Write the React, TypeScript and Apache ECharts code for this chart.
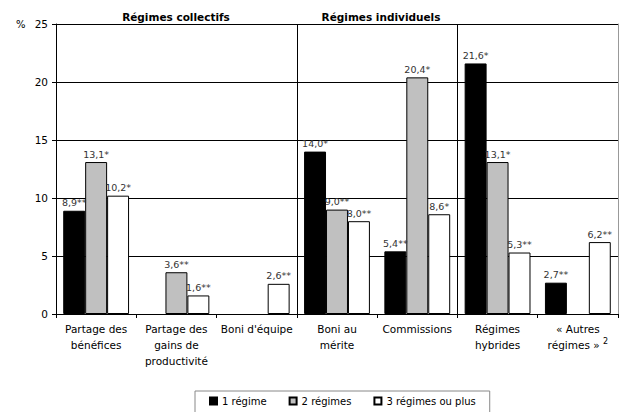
import React, { useEffect, useRef } from "react";
import * as echarts from "echarts";

const categories = [
  "Partage des\nbénéfices",
  "Partage des\ngains de\nproductivité",
  "Boni d'équipe",
  "Boni au\nmérite",
  "Commissions",
  "Régimes\nhybrides",
  "« Autres\nrégimes » {sup|2}",
];
const seriesNames = ["1 régime", "2 régimes", "3 régimes ou plus"];
const values1 = [8.9, null, null, 14.0, 5.4, 21.6, 2.7];
const labels1 = ["8,9**", "", "", "14,0*", "5,4**", "21,6*", "2,7**"];
const values2 = [13.1, 3.6, null, 9.0, 20.4, 13.1, null];
const labels2 = ["13,1*", "3,6**", "", "9,0**", "20,4*", "13,1*", ""];
const values3 = [10.2, 1.6, 2.6, 8.0, 8.6, 5.3, 6.2];
const labels3 = ["10,2*", "1,6**", "2,6**", "8,0**", "8,6*", "5,3**", "6,2**"];
const colors = ["#000000", "#c0c0c0", "#ffffff"];
const groupTitles = ["Régimes collectifs", "Régimes individuels"];

const FONT = "'DejaVu Sans', sans-serif";

export default function App() {
  const ref = useRef<HTMLDivElement>(null);
  useEffect(() => {
    const chart = echarts.init(ref.current!, null, { renderer: "svg" });
    const mk = (i: number, vals: (number | null)[], labs: string[]) => ({
      name: seriesNames[i],
      type: "bar",
      barGap: "0%",
      barCategoryGap: "18%",
      data: vals.map((v, k) => ({
        value: v,
        label: { formatter: labs[k] },
      })),
      itemStyle: { color: colors[i], borderColor: "#000", borderWidth: 1 },
      label: {
        show: true,
        position: "top",
        distance: 3,
        fontFamily: FONT,
        fontSize: 9.5,
        color: "#333",
      },
    });
    chart.setOption({
      animation: false,
      textStyle: { fontFamily: FONT },
      grid: { left: 56, right: 1, top: 24, bottom: 98, containLabel: false },
      legend: {
        top: 391,
        left: 195,
        data: seriesNames,
        icon: "rect",
        itemWidth: 7,
        itemHeight: 7,
        itemGap: 22,
        padding: [5, 14, 12, 14],
        borderColor: "#888",
        borderWidth: 1,
        textStyle: { fontFamily: FONT, fontSize: 10, color: "#000" },
      },
      xAxis: [
        {
          type: "category",
          data: categories,
          axisLine: { lineStyle: { color: "#000" } },
          axisTick: { show: true, length: 4, lineStyle: { color: "#000" } },
          axisLabel: {
            interval: 0,
            margin: 7,
            fontFamily: FONT,
            fontSize: 10.5,
            color: "#000",
            lineHeight: 16,
            rich: { sup: { fontSize: 8, verticalAlign: "top", padding: [0, 0, 6, 0] } },
          },
          splitLine: {
            show: true,
            interval: (idx: number) => idx === 3 || idx === 5,
            lineStyle: { color: "#000", width: 1 },
          },
        },
        {
          type: "category",
          position: "top",
          data: categories,
          axisLine: { show: true, lineStyle: { color: "#000" } },
          axisTick: { show: false },
          axisLabel: { show: false },
        },
      ],
      yAxis: [
        {
          type: "value",
          min: 0,
          max: 25,
          interval: 5,
          axisLine: { show: true, lineStyle: { color: "#000" } },
          axisTick: { show: true, length: 4, lineStyle: { color: "#000" } },
          axisLabel: { margin: 8, fontFamily: FONT, fontSize: 10.5, color: "#000" },
          splitLine: { show: true, lineStyle: { color: "#000", width: 1 } },
        },
        {
          type: "value",
          position: "right",
          min: 0,
          max: 25,
          interval: 5,
          axisLine: { show: true, lineStyle: { color: "#999" } },
          axisTick: { show: false },
          axisLabel: { show: false },
          splitLine: { show: false },
        },
      ],
      graphic: [
        {
          type: "text",
          left: 16,
          top: 19,
          style: { text: "%", fontFamily: FONT, fontSize: 10, fill: "#000" },
        },
        {
          type: "text",
          x: 176,
          y: 11,
          style: {
            text: groupTitles[0],
            fontFamily: FONT,
            fontSize: 10.5,
            fontWeight: "bold",
            fill: "#000",
            align: "center",
          },
        },
        {
          type: "text",
          x: 381,
          y: 11,
          style: {
            text: groupTitles[1],
            fontFamily: FONT,
            fontSize: 10.5,
            fontWeight: "bold",
            fill: "#000",
            align: "center",
          },
        },
      ],
      series: [mk(0, values1, labels1), mk(1, values2, labels2), mk(2, values3, labels3)],
    });
    return () => chart.dispose();
  }, []);
  return <div ref={ref} style={{ width: 619, height: 412, position: "absolute", left: 0, top: 0 }} />;
}
